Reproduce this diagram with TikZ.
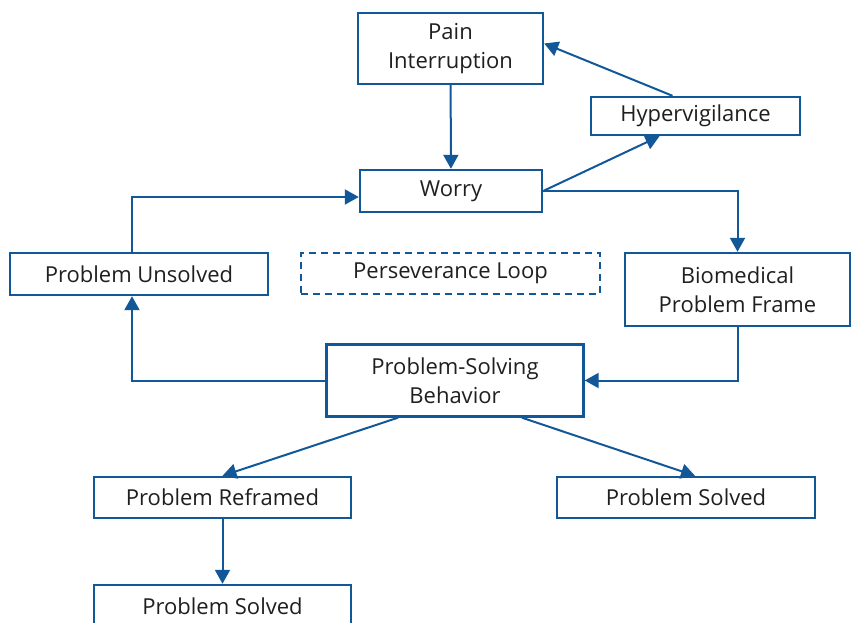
\documentclass[tikz,border=0pt]{standalone}
\usepackage{fontspec}
\setmainfont{Open Sans}
\usetikzlibrary{arrows.meta}
\definecolor{flowblue}{RGB}{18,88,152}
\tikzset{
	box/.style={draw=flowblue, line width=2.4pt, fill=white, align=center, inner sep=0pt,
		font=\fontsize{22}{28.5}\selectfont, text=black!88},
	loopbox/.style={box, dashed, dash pattern=on 7pt off 5pt},
	link/.style={flowblue, line width=2pt, -{Triangle[length=14pt,width=15pt]}}
}
\begin{document}
\begin{tikzpicture}[x=1pt, y=-1pt]
	\useasboundingbox (0,0) rectangle (851,623);
	% boxes
	\node[box, minimum width=185pt, minimum height=71pt] (pain) at (450.5,48.5) {Pain\\Interruption};
	\node[box, minimum width=209pt, minimum height=38pt] (hyper) at (695.5,116) {Hypervigilance};
	\node[box, minimum width=182pt, minimum height=42pt] (worry) at (451,191) {Worry};
	\node[box, minimum width=258pt, minimum height=42pt] (unsolved) at (139,274) {Problem Unsolved};
	\node[loopbox, minimum width=299pt, minimum height=41pt] (loop) at (450.5,273.5) {Perseverance Loop};
	\node[box, minimum width=225pt, minimum height=73pt] (bio) at (737.5,289.5) {Biomedical\\Problem Frame};
	\node[box, minimum width=257pt, minimum height=72pt] (psb) at (455,380.5) {Problem-Solving\\Behavior};
	\node[box, minimum width=257pt, minimum height=41pt] (reframed) at (222.5,497.5) {Problem Reframed};
	\node[box, minimum width=258pt, minimum height=41pt] (solved) at (686,497.5) {Problem Solved};
	\node[box, minimum width=257pt, minimum height=42pt] (solvedb) at (222.5,606) {Problem Solved};
	% connectors
	\draw[link] (pain) -- (worry);
	\draw[link] (worry.east) -- ([xshift=-36pt]hyper.south);
	\draw[link] ([xshift=-23pt]hyper.north) -- ([yshift=5pt]pain.east);
	\draw[link] (worry.east) -| (bio.north);
	\draw[link] (bio.south) |- (psb.east);
	\draw[link] (psb.west) -| ([xshift=-7pt]unsolved.south);
	\draw[link] ([xshift=-7pt]unsolved.north) |- ([yshift=-6pt]worry.west);
	\draw[link] ([xshift=-57pt]psb.south) -- (reframed.north);
	\draw[link] ([xshift=67pt]psb.south) -- ([xshift=9pt]solved.north);
	\draw[link] (reframed) -- (solvedb);
\end{tikzpicture}
\end{document}
